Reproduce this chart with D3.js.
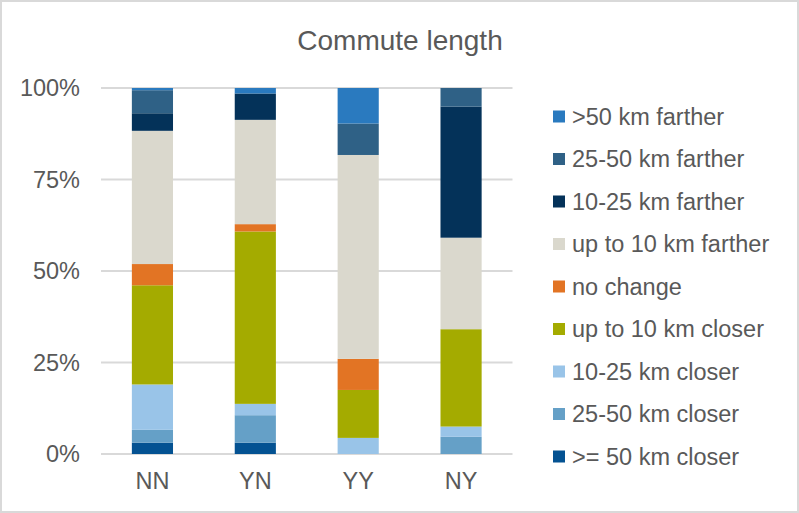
<!DOCTYPE html>
<html>
<head>
<meta charset="utf-8">
<script src="https://cdn.jsdelivr.net/npm/d3@7"></script>
<style>
  html, body { margin: 0; padding: 0; background: #fff; }
  svg { display: block; font-family: "Liberation Sans", Arial, sans-serif; }
</style>
</head>
<body>
<script>
// Categories along the x axis
const groups = ["NN", "YN", "YY", "NY"];

// Stack order, bottom to top
const seriesNames = [
  ">= 50 km closer",
  "25-50 km closer",
  "10-25 km closer",
  "up to 10 km closer",
  "no change",
  "up to 10 km farther",
  "10-25 km farther",
  "25-50 km farther",
  ">50 km farther"
];

const seriesColors = [
  "#045292", "#65a0c7", "#99c4e8", "#a4ab00", "#e27424",
  "#dad8cd", "#043259", "#2f6186", "#2a7abf"
];

// Shares (%) per series, one value for each group (NN, YN, YY, NY)
const closer50   = [3.1, 3.1, 0.0, 0.0];
const closer25   = [3.5, 7.5, 0.0, 4.7];
const closer10   = [12.4, 3.1, 4.4, 2.8];
const closerUp10 = [27.1, 47.1, 13.1, 26.6];
const noChange   = [5.8, 2.0, 8.5, 0.0];
const fartherUp10 = [36.4, 28.5, 55.7, 25.0];
const farther10  = [4.8, 7.2, 0.0, 35.8];
const farther25  = [6.3, 0.0, 8.6, 5.1];
const farther50  = [0.6, 1.5, 9.7, 0.0];

const yTicks = [0, 0.25, 0.5, 0.75, 1];

const seriesValues = [closer50, closer25, closer10, closerUp10, noChange,
                      fartherUp10, farther10, farther25, farther50];

const W = 799, H = 513;
const plot = { left: 101, right: 512.5, top: 88, bottom: 454 };
const textColor = "#595959";
const gridColor = "#d9d9d9";
const labelSize = 23.5;

const svg = d3.select("body").append("svg").attr("width", W).attr("height", H);

// Outer chart frame
svg.append("rect")
  .attr("x", 1).attr("y", 1).attr("width", W - 2).attr("height", H - 2)
  .attr("fill", "#fff").attr("stroke", gridColor).attr("stroke-width", 2);

// Title
svg.append("text")
  .attr("x", 400).attr("y", 40).attr("dy", "0.35em")
  .attr("text-anchor", "middle")
  .attr("font-size", 28).attr("fill", textColor)
  .text("Commute length");

// Build rows for the stack, normalised to 100%
const rows = groups.map((g, i) => {
  const r = { group: g };
  let total = 0;
  seriesNames.forEach((s, k) => { total += seriesValues[k][i]; });
  seriesNames.forEach((s, k) => { r[s] = seriesValues[k][i] / total; });
  return r;
});

const stacked = d3.stack().keys(seriesNames)(rows);

const x = d3.scaleBand().domain(groups)
  .range([plot.left, plot.right]).paddingInner(0.6).paddingOuter(0.3);
const y = d3.scaleLinear().domain([0, 1]).range([plot.bottom, plot.top]);

// Horizontal grid lines
svg.append("g").selectAll("line").data(yTicks).join("line")
  .attr("x1", plot.left).attr("x2", plot.right)
  .attr("y1", d => y(d)).attr("y2", d => y(d))
  .attr("stroke", gridColor).attr("stroke-width", 2);

// Y axis labels
const yAxis = d3.axisLeft(y).tickValues(yTicks).tickFormat(d3.format(".0%"))
  .tickSize(0).tickPadding(21);
const yg = svg.append("g").attr("transform", `translate(${plot.left},0)`).call(yAxis);
yg.select(".domain").remove();
yg.selectAll("text").attr("font-size", labelSize).attr("fill", textColor)
  .attr("font-family", "Liberation Sans, Arial, sans-serif");

// Bars
svg.append("g").selectAll("g").data(stacked).join("g")
  .attr("fill", (d, k) => seriesColors[k])
  .selectAll("rect").data(d => d).join("rect")
  .attr("x", d => x(d.data.group))
  .attr("width", x.bandwidth())
  .attr("y", d => y(d[1]))
  .attr("height", d => Math.max(0, y(d[0]) - y(d[1])));

// X axis labels
const xAxis = d3.axisBottom(x).tickSize(0).tickPadding(18);
const xg = svg.append("g").attr("transform", `translate(0,${plot.bottom})`).call(xAxis);
xg.select(".domain").remove();
xg.selectAll("text").attr("font-size", labelSize).attr("fill", textColor)
  .attr("font-family", "Liberation Sans, Arial, sans-serif");

// Legend, top-most series first
const legendItems = seriesNames.map((n, k) => ({ name: n, color: seriesColors[k] })).reverse();
const lg = svg.append("g").selectAll("g").data(legendItems).join("g")
  .attr("transform", (d, i) => `translate(553,${116.5 + i * 42.5})`);
lg.append("rect").attr("x", 0).attr("y", -6).attr("width", 12).attr("height", 12)
  .attr("fill", d => d.color);
lg.append("text").attr("x", 19).attr("dy", "0.35em")
  .attr("font-size", labelSize).attr("fill", textColor)
  .text(d => d.name);
</script>
</body>
</html>
